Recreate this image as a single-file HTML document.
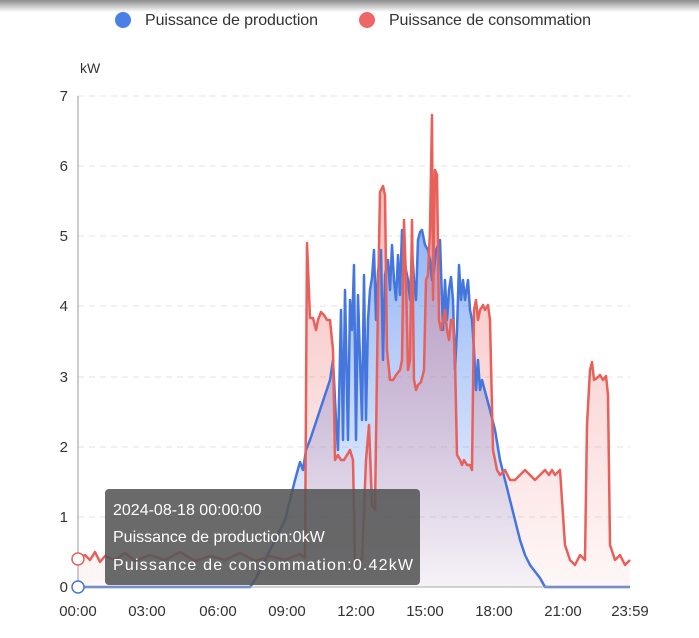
<!DOCTYPE html>
<html><head><meta charset="utf-8"><style>
html,body{margin:0;padding:0;background:#fff;}
body{width:699px;height:638px;overflow:hidden;position:relative;font-family:"Liberation Sans",sans-serif;}
.shadow{position:absolute;left:0;top:0;width:699px;height:12px;background:linear-gradient(#8a8a8a,#fff);}
</style></head><body>
<div class="shadow"></div>
<svg width="699" height="638" style="position:absolute;left:0;top:0" font-family="Liberation Sans, sans-serif">
<defs>
<linearGradient id="gb" x1="0" y1="0" x2="0" y2="1"><stop offset="0" stop-color="#5b8ff0" stop-opacity="0.65"/><stop offset="1" stop-color="#5b8ff0" stop-opacity="0.05"/></linearGradient>
<linearGradient id="gr" x1="0" y1="0" x2="0" y2="1"><stop offset="0" stop-color="#ee6666" stop-opacity="0.5"/><stop offset="1" stop-color="#ee6666" stop-opacity="0.05"/></linearGradient>
</defs>
<circle cx="123" cy="20" r="8" fill="#4a7fe6"/>
<text x="145" y="25" font-size="16" fill="#333" textLength="173">Puissance de production</text>
<circle cx="367" cy="20" r="8" fill="#ee6666"/>
<text x="389" y="25" font-size="16" fill="#333" textLength="202">Puissance de consommation</text>
<text x="80" y="73" font-size="14" fill="#333">kW</text>
<g stroke="#e3e3e3" stroke-dasharray="6,5" stroke-width="1">
<line x1="78" y1="96" x2="630" y2="96"/><line x1="78" y1="166" x2="630" y2="166"/><line x1="78" y1="236" x2="630" y2="236"/><line x1="78" y1="306" x2="630" y2="306"/><line x1="78" y1="377" x2="630" y2="377"/><line x1="78" y1="447" x2="630" y2="447"/><line x1="78" y1="517" x2="630" y2="517"/>
</g>
<line x1="78" y1="96" x2="78" y2="587" stroke="#999"/>
<g font-size="15" fill="#333" text-anchor="end">
<text x="68" y="101">7</text><text x="68" y="171">6</text><text x="68" y="241">5</text><text x="68" y="311">4</text><text x="68" y="382">3</text><text x="68" y="452">2</text><text x="68" y="522">1</text><text x="68" y="592">0</text>
</g>
<g font-size="15" fill="#333" text-anchor="middle">
<text x="78" y="616">00:00</text><text x="147" y="616">03:00</text><text x="218" y="616">06:00</text><text x="287" y="616">09:00</text><text x="356" y="616">12:00</text><text x="425" y="616">15:00</text><text x="494" y="616">18:00</text><text x="563" y="616">21:00</text><text x="630" y="616">23:59</text>
</g>
<g stroke-linejoin="round">
<path fill="url(#gb)" stroke="none" d="M78,587 L250,587 255,580 265,560 275,540 285,520 295,480 300,462 303,470 306,450 310,440 320,410 330,380 333,360 336,420 338,450 341,310 343,440 345,290 348,440 350,300 352,330 354,265 356,440 358,295 360,360 362,420 364,275 366,420 368,320 370,290 372,278 374,250 376,320 378,272 381,250 383,360 385,275 388,260 390,290 392,245 394,280 396,300 398,255 400,295 402,230 404,255 406,270 408,280 410,300 412,250 414,280 416,300 418,240 420,232 422,230 425,245 428,250 430,260 432,280 434,270 436,250 440,240 443,330 445,280 447,320 449,290 451,277 453,300 455,370 457,330 459,265 461,300 463,280 465,300 468,280 470,310 472,320 474,350 476,390 478,360 480,390 482,380 486,395 490,410 495,430 500,460 505,480 510,500 515,520 520,540 525,555 530,565 540,578 545,587 630,587 Z"/>
<path fill="url(#gr)" stroke="none" d="M78,559 L85,555 90,560 95,552 100,562 105,556 115,560 125,553 135,561 150,555 165,560 180,552 195,561 210,556 225,560 240,553 255,561 270,556 285,560 300,554 305,558 307,243 310,318 313,318 316,330 318,320 321,312 324,315 327,320 330,320 333,350 335,460 338,455 341,460 344,460 347,455 350,450 353,460 355,565 358,560 362,560 366,460 369,425 372,505 375,510 378,300 380,192 383,186 385,195 387,350 390,380 393,380 396,375 400,370 402,360 404,220 406,280 408,370 410,360 412,220 414,380 416,390 418,385 421,382 424,370 426,280 428,275 430,230 432,115 433,300 435,170 437,175 439,320 441,330 443,320 445,310 447,330 449,340 451,320 453,320 455,360 457,455 460,460 462,465 464,460 467,465 470,465 472,470 474,310 476,300 478,320 480,310 483,305 485,310 488,305 490,320 493,450 495,460 497,470 500,475 505,470 510,480 515,480 520,475 525,470 530,475 535,480 540,475 545,470 549,475 552,470 555,475 560,470 565,545 570,560 575,565 580,555 585,560 587,425 590,370 592,362 594,380 597,378 600,375 603,380 606,376 608,395 610,545 615,560 620,555 625,565 630,560 L630,587 L78,587 Z"/>
<polyline fill="none" stroke="#4476dd" stroke-width="2.5" points="78,587 250,587 255,580 265,560 275,540 285,520 295,480 300,462 303,470 306,450 310,440 320,410 330,380 333,360 336,420 338,450 341,310 343,440 345,290 348,440 350,300 352,330 354,265 356,440 358,295 360,360 362,420 364,275 366,420 368,320 370,290 372,278 374,250 376,320 378,272 381,250 383,360 385,275 388,260 390,290 392,245 394,280 396,300 398,255 400,295 402,230 404,255 406,270 408,280 410,300 412,250 414,280 416,300 418,240 420,232 422,230 425,245 428,250 430,260 432,280 434,270 436,250 440,240 443,330 445,280 447,320 449,290 451,277 453,300 455,370 457,330 459,265 461,300 463,280 465,300 468,280 470,310 472,320 474,350 476,390 478,360 480,390 482,380 486,395 490,410 495,430 500,460 505,480 510,500 515,520 520,540 525,555 530,565 540,578 545,587 630,587"/>
<polyline fill="none" stroke="#e8605a" stroke-width="2.5" points="78,559 85,555 90,560 95,552 100,562 105,556 115,560 125,553 135,561 150,555 165,560 180,552 195,561 210,556 225,560 240,553 255,561 270,556 285,560 300,554 305,558 307,243 310,318 313,318 316,330 318,320 321,312 324,315 327,320 330,320 333,350 335,460 338,455 341,460 344,460 347,455 350,450 353,460 355,565 358,560 362,560 366,460 369,425 372,505 375,510 378,300 380,192 383,186 385,195 387,350 390,380 393,380 396,375 400,370 402,360 404,220 406,280 408,370 410,360 412,220 414,380 416,390 418,385 421,382 424,370 426,280 428,275 430,230 432,115 433,300 435,170 437,175 439,320 441,330 443,320 445,310 447,330 449,340 451,320 453,320 455,360 457,455 460,460 462,465 464,460 467,465 470,465 472,470 474,310 476,300 478,320 480,310 483,305 485,310 488,305 490,320 493,450 495,460 497,470 500,475 505,470 510,480 515,480 520,475 525,470 530,475 535,480 540,475 545,470 549,475 552,470 555,475 560,470 565,545 570,560 575,565 580,555 585,560 587,425 590,370 592,362 594,380 597,378 600,375 603,380 606,376 608,395 610,545 615,560 620,555 625,565 630,560"/>
</g>
<line x1="78" y1="587" x2="630" y2="587" stroke="#aaa"/>
<circle cx="78" cy="559" r="6" fill="#fff" stroke="#e8605a" stroke-width="1.5"/>
<circle cx="78" cy="587" r="6" fill="#fff" stroke="#4476dd" stroke-width="1.5"/>
<rect x="105" y="489" width="315" height="96" rx="4" fill="rgba(85,85,85,0.88)"/>
<g font-size="16" fill="#fff">
<text x="113" y="515">2024-08-18 00:00:00</text>
<text x="113" y="542">Puissance de production:0kW</text>
<text x="113" y="570" textLength="300">Puissance de consommation:0.42kW</text>
</g>
</svg>
</body></html>
